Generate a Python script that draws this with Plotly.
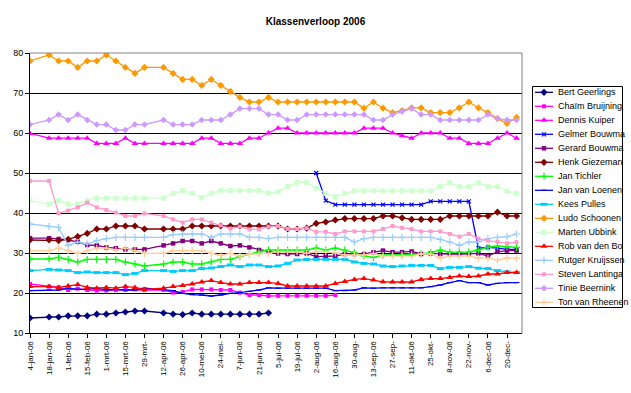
import plotly.graph_objects as go

FONT = "Liberation Sans, Arial, sans-serif"

# ---- categories (weekly measurements, 11-jan and 5-apr missing) ----
DATES = [
    "2006-01-04", "2006-01-18", "2006-01-25", "2006-02-01", "2006-02-08", "2006-02-15",
    "2006-02-22", "2006-03-01", "2006-03-08", "2006-03-15", "2006-03-22", "2006-03-29",
    "2006-04-12", "2006-04-19", "2006-04-26", "2006-05-03", "2006-05-10", "2006-05-17",
    "2006-05-24", "2006-05-31", "2006-06-07", "2006-06-14", "2006-06-21", "2006-06-28",
    "2006-07-05", "2006-07-12", "2006-07-19", "2006-07-26", "2006-08-02", "2006-08-09",
    "2006-08-16", "2006-08-23", "2006-08-30", "2006-09-06", "2006-09-13", "2006-09-20",
    "2006-09-27", "2006-10-04", "2006-10-11", "2006-10-18", "2006-10-25", "2006-11-01",
    "2006-11-08", "2006-11-15", "2006-11-22", "2006-11-29", "2006-12-06", "2006-12-13",
    "2006-12-20", "2006-12-27",
]

TICK_DATES = [
    "2006-01-04", "2006-01-18", "2006-02-01", "2006-02-15", "2006-03-01", "2006-03-15",
    "2006-03-29", "2006-04-12", "2006-04-26", "2006-05-10", "2006-05-24", "2006-06-07",
    "2006-06-21", "2006-07-05", "2006-07-19", "2006-08-02", "2006-08-16", "2006-08-30",
    "2006-09-13", "2006-09-27", "2006-10-11", "2006-10-25", "2006-11-08", "2006-11-22",
    "2006-12-06", "2006-12-20",
]
TICK_TEXT = [
    "4-jan-06", "18-jan-06", "1-feb-06", "15-feb-06", "1-mrt-06", "15-mrt-06",
    "29-mrt-", "12-apr-06", "26-apr-06", "10-mei-06", "24-mei-", "7-jun-06",
    "21-jun-06", "5-jul-06", "19-jul-06", "2-aug-06", "16-aug-06", "30-aug-",
    "13-sep-06", "27-sep-", "11-okt-06", "25-okt-", "8-nov-06", "22-nov-",
    "6-dec-06", "20-dec-",
]

# ---- series values ----
bert = [13.75,
        14.0, 14.0, 14.3, 14.3, 14.3, 14.7, 14.7, 15.0, 15.25, 15.5, 15.5,
        15.0, 14.7, 14.6, 15.0, 14.7, 14.7, 14.7, 14.7, 14.7, 14.7, 14.7, 15.0] + [None] * 26

chaim = [22.25,
         21.6, 21.4, 20.75, 21.1, 20.75, 20.6, 20.6, 20.75, 20.75, 20.9, 20.75,
         20.75, 20.1, 20.25, 20.9, 20.9, 20.9, 20.75, 20.75, 20.1, 19.5, 19.5, 19.25,
         19.3, 19.3, 19.3, 19.3, 19.3, 19.3, 19.5] + [None] * 19

dennis = [59.9,
          58.7, 58.7, 58.7, 58.7, 58.7, 57.4, 57.4, 57.4, 58.7, 57.4, 57.4,
          57.4, 57.4, 57.4, 57.4, 58.7, 58.7, 57.4, 57.4, 57.4, 58.7, 58.7, 60,
          61.2, 61.2, 60, 60, 60, 60, 60, 60, 60, 61.2, 61.2, 61.2, 60,
          59.3, 58.7, 60, 60, 60, 58.7, 58.7, 57.4, 57.4, 57.4, 58.7, 60, 58.7]

gelmer = [None] * 28 + [50, 43.1,
          42.1, 42.1, 42.1, 42.1, 42.1, 42.1, 42.1, 42.1, 42.1, 42.1,
          42.9, 42.9, 42.9, 42.9, 42.9, 31.2, 31.4, 31.2, 30.9, 30.9]

gerard = [33.7,
          33.7, 33.5, 33.25, 32.8, 32.0, 31.9, 31.4, 31.2, 30.9, 30.9, 30.9,
          31.9, 32.4, 33.0, 33.0, 32.4, 33.0, 32.4, 31.75, 31.9, 31.4, 30.75, 30.3,
          29.9, 29.75, 29.75, 29.9, 29.1, 29.25, 29.25, 29.75, 29.75, 29.75, 30.2, 30.6, 30.2,
          30.2, 30.4, 29.75, 29.9, 29.75, 29.75, 29.75, 29.75, 29.9, 29.25, 30.3, 30.6, 30.6]

henk = [33.25,
        33.25, 33.1, 33.4, 34.1, 34.9, 36.0, 36.0, 36.75, 36.75, 36.75, 36.0,
        36.0, 36.0, 36.0, 36.75, 36.75, 36.75, 36.75, 36.75, 36.75, 36.75, 36.75, 36.75,
        36.75, 36.0, 36.0, 36.2, 37.4, 37.75, 38.25, 38.6, 38.6, 38.6, 38.6, 39.25, 39.25,
        38.8, 38.4, 38.4, 38.4, 38.4, 39.25, 39.25, 39.25, 39.25, 39.25, 40.2, 39.25, 39.25]

tichler = [28.5,
           28.5, 28.9, 28.4, 27.75, 28.4, 28.4, 28.4, 28.4, 27.75, 27.25, 26.75,
           27.25, 27.75, 27.75, 27.25, 27.25, 27.75, 28.4, 28.4, 29.1, 29.75, 30.25, 30.75,
           30.75, 30.75, 30.75, 30.75, 31.25, 30.75, 31.25, 30.75, 30.1, 29.25, 28.9, 29.5, 29.6,
           29.6, 29.7, 29.75, 30.1, 30.75, 30.2, 30.25, 30.25, 30.75, 31.4, 31.75, 31.6, 31.4]

loenen = [20.6,
          20.75, 20.75, 21.2, 20.9, 20.9, 21.2, 20.75, 20.9, 20.75, 20.75, 21.2,
          20.9, 20.6, 19.9, 19.6, 19.5, 19.25, 19.5, 19.9, 20.1, 20.4, 20.75, 21.3,
          21.2, 21.2, 21.2, 21.2, 21.2, 21.2, 20.6, 20.6, 20.75, 21.3, 21.2, 21.3, 21.3,
          21.3, 21.3, 21.3, 21.6, 22.0, 22.6, 23.1, 22.6, 22.6, 22.0, 22.4, 22.6, 22.6]

kees = [25.6,
        25.9, 25.75, 25.6, 25.1, 25.25, 25.1, 25.1, 25.1, 24.6, 24.9, 25.6,
        25.6, 25.4, 25.6, 25.6, 26.1, 26.25, 26.6, 27.0, 26.6, 27.0, 27.0, 26.6,
        26.75, 27.4, 28.25, 28.4, 28.4, 28.4, 28.4, 28.4, 27.75, 27.4, 27.25, 26.75, 26.6,
        26.75, 26.9, 26.9, 26.9, 26.1, 26.4, 26.4, 26.6, 26.2, 26.1, 25.6, 25.3, 25.1]

ludo = [78,
        79.5, 78, 78, 76.4, 78, 78, 79.5, 78, 76.4, 74.9, 76.4,
        76.4, 74.9, 73.4, 73.4, 71.9, 73.4, 71.9, 70.4, 68.9, 67.75, 67.75, 68.9,
        67.75, 67.75, 67.75, 67.75, 67.75, 67.75, 67.75, 67.75, 67.75, 66.2, 67.75, 66.2, 65.1,
        65.6, 66.3, 66.3, 65.1, 65.1, 65.1, 66.3, 67.75, 66.3, 65.1, 63.6, 62.4, 63.9]

marten = [43.1,
          42.2, 43.1, 42.2, 42.2, 43.1, 43.7, 43.7, 43.7, 43.7, 43.7, 43.7,
          43.7, 44.9, 45.6, 44.9, 43.8, 44.9, 45.6, 45.6, 45.6, 45.6, 45.6, 45.0,
          45.3, 46.6, 47.6, 47.6, 46.2, 44.9, 44.1, 44.9, 45.5, 45.5, 45.5, 45.5, 45.5,
          45.5, 45.5, 45.5, 45.5, 46.6, 47.6, 46.6, 46.6, 47.6, 46.6, 46.6, 45.5, 44.9]

rob = [21.6,
       21.6, 21.4, 21.75, 22.1, 21.4, 21.2, 21.4, 21.2, 21.6, 21.4, 20.9,
       21.2, 21.6, 21.9, 22.25, 22.75, 23.1, 22.6, 22.25, 22.25, 22.6, 22.6, 22.6,
       22.4, 21.75, 21.75, 21.75, 21.75, 21.75, 22.4, 22.9, 23.4, 23.6, 23.25, 22.8, 22.75,
       22.75, 22.75, 23.4, 23.6, 23.6, 23.9, 24.25, 24.1, 24.25, 24.75, 24.75, 25.1, 25.1]

rutger = [37.25,
          36.6, 36.4, 31.9, 32.7, 32.25, 33.1, 33.6, 33.9, 33.9, 33.9, 33.9,
          33.9, 34.6, 34.75, 34.75, 34.75, 33.9, 34.75, 34.75, 34.75, 33.9, 33.9, 33.6,
          33.9, 33.9, 33.9, 33.9, 33.9, 33.9, 33.9, 33.9, 32.75, 33.6, 33.9, 33.9, 33.9,
          33.9, 33.9, 33.9, 33.9, 33.4, 32.75, 31.9, 32.75, 32.75, 33.6, 33.9, 34.1, 34.75]

steven = [48,
          48, 39.9, 40.6, 41.4, 42.6, 41.4, 40.75, 40.1, 39.25, 39.25, 39.9,
          39.25, 38.4, 37.6, 38.4, 38.4, 37.6, 36.9, 36.1, 36.6, 35.9, 35.9, 36.6,
          36.75, 36.0, 36.0, 36.2, 35.3, 35.3, 34.75, 35.4, 35.4, 35.4, 35.4, 36.0, 36.75,
          36.3, 36.0, 35.4, 35.4, 35.4, 34.75, 34.1, 34.75, 33.6, 33.1, 32.8, 32.4, 32.7]

tinie = [62.1,
         63.25, 64.6, 63.25, 64.6, 63.25, 62.1, 62.1, 60.75, 60.75, 62.1, 62.1,
         63.25, 62.1, 62.1, 62.1, 63.25, 63.25, 63.25, 64.6, 66.1, 66.1, 66.1, 64.6,
         64.6, 63.25, 63.25, 64.6, 64.6, 64.6, 64.6, 64.6, 64.6, 64.6, 63.25, 63.25, 64.6,
         65.4, 66.1, 64.6, 64.6, 63.25, 63.25, 63.25, 63.25, 63.25, 64.6, 63.6, 63.25, 63.25]

ton = [30.6,
       30.6, 31.2, 30.6, 29.9, 30.6, 31.2, 31.2, 30.75, 31.2, 30.6, 29.9,
       29.9, 30.6, 30.6, 30.6, 30.6, 29.9, 29.4, 29.9, 29.25, 29.75, 29.75, 29.9,
       30.3, 30.3, 30.3, 29.9, 30.3, 30.3, 30.0, 29.5, 29.5, 29.5, 29.9, 29.3, 29.3,
       29.3, 29.3, 29.75, 29.75, 28.7, 29.25, 29.25, 29.25, 28.7, 28.7, 28.25, 28.7, 28.7]

NAMES = ["Bert Geerlings", "Chaïm Bruijning", "Dennis Kuiper", "Gelmer Bouwma",
         "Gerard Bouwma", "Henk Giezeman", "Jan Tichler", "Jan van Loenen",
         "Kees Pulles", "Ludo Schoonen", "Marten Ubbink", "Rob van den Bo",
         "Rutger Kruijssen", "Steven Lantinga", "Tinie Beernink", "Ton van Rheenen"]
SERIES = [bert, chaim, dennis, gelmer, gerard, henk, tichler, loenen,
          kees, ludo, marten, rob, rutger, steven, tinie, ton]

# ---- styles ----
COLORS = ["#000080", "#FF00FF", "#FF00FF", "#0000FF", "#800080", "#800000", "#00FF00",
          "#0000FF", "#00CCFF", "#FF9900", "#CCFFCC", "#FF0000", "#99CCFF", "#FF99CC",
          "#CC99FF", "#FFCC99"]
SYMBOLS = ["diamond", "square", "triangle-up", "x-thin", "square", "diamond", "cross-thin",
           "line-ew", "line-ew", "diamond", "square", "triangle-up", "cross-thin", "square",
           "diamond", "cross-thin"]
SIZES = [5.5, 4, 6, 4, 4.5, 5.5, 5, 4, 5, 5.5, 5, 6, 5, 4, 5, 5]
OPEN = {"x-thin", "cross-thin", "line-ew"}


def marker_style(i):
    sym = SYMBOLS[i]
    if sym in OPEN:
        lw = 3 if (sym == "line-ew" and NAMES[i] == "Kees Pulles") else 1.2
        return dict(symbol=sym, size=SIZES[i], color=COLORS[i],
                    line=dict(color=COLORS[i], width=lw))
    return dict(symbol=sym, size=SIZES[i], color=COLORS[i], line=dict(width=0))


fig = go.Figure()
for i, (name, vals) in enumerate(zip(NAMES, SERIES)):
    fig.add_trace(go.Scatter(
        x=DATES, y=vals, name=name, mode="lines+markers",
        line=dict(color=COLORS[i], width=1.3),
        marker=marker_style(i), xaxis="x", yaxis="y",
    ))

# ---- hand-made legend (layout geometry in pixels) ----
PLOT_L, PLOT_R, PLOT_T, PLOT_B = 30, 522, 53, 333
FIG_W, FIG_H, MARGIN_R = 631, 393, 8
AREA_W = FIG_W - PLOT_L - MARGIN_R
AREA_H = PLOT_B - PLOT_T
LEG_L, LEG_R, LEG_T, LEG_B = 532, 623, 86, 308
LEG_ROW0, LEG_STEP = 92.3, 14
SAMPLE_X = [535, 544, 553]
TEXT_X = 556

annotations = []
for i, name in enumerate(NAMES):
    yc = LEG_ROW0 + LEG_STEP * i
    m = marker_style(i)
    m["opacity"] = [0, 1, 0]
    fig.add_trace(go.Scatter(
        x=SAMPLE_X, y=[yc] * 3, mode="lines+markers", showlegend=False,
        line=dict(color=COLORS[i], width=1.3), marker=m,
        xaxis="x2", yaxis="y2", hoverinfo="skip",
    ))
    annotations.append(dict(
        x=TEXT_X, y=yc, xref="x2", yref="y2", text=name, showarrow=False,
        xanchor="left", yanchor="middle",
        font=dict(family=FONT, size=9, color="black"),
    ))

shapes = [
    dict(type="rect", xref="x2", yref="y2", x0=LEG_L + 0.5, x1=LEG_R - 0.5,
         y0=LEG_T + 0.5, y1=LEG_B - 0.5, line=dict(color="black", width=1),
         fillcolor="white", layer="below"),
    dict(type="line", xref="x domain", yref="y domain", x0=0, x1=1, y0=1, y1=1,
         line=dict(color="#808080", width=1), layer="above"),
    dict(type="line", xref="x domain", yref="y domain", x0=1, x1=1, y0=0, y1=1,
         line=dict(color="#808080", width=1), layer="above"),
]

fig.update_layout(
    width=FIG_W, height=FIG_H,
    margin=dict(l=PLOT_L, r=MARGIN_R, t=PLOT_T, b=FIG_H - PLOT_B, pad=0, autoexpand=False),
    paper_bgcolor="white", plot_bgcolor="white",
    showlegend=False,
    font=dict(family=FONT, color="black"),
    title=dict(text="<b>Klassenverloop 2006</b>", x=0.5, xref="container", xanchor="center",
               y=1 - 21 / FIG_H, yref="container", yanchor="middle",
               font=dict(family=FONT, size=10, color="black")),
    xaxis=dict(
        domain=[0, (PLOT_R - PLOT_L) / AREA_W], type="date",
        range=["2006-01-04", "2006-12-31"],
        tickmode="array", tickvals=TICK_DATES, ticktext=TICK_TEXT, tickangle=-90,
        tickfont=dict(family=FONT, size=8, color="black"),
        ticks="outside", ticklen=4, tickcolor="black", tickwidth=1,
        showline=True, linecolor="black", linewidth=1,
        showgrid=False, zeroline=False, anchor="y",
    ),
    yaxis=dict(
        range=[10, 80], tick0=10, dtick=10,
        tickfont=dict(family=FONT, size=9, color="black"),
        ticks="outside", ticklen=4, tickcolor="black", tickwidth=1,
        showline=True, linecolor="black", linewidth=1,
        showgrid=True, gridcolor="black", gridwidth=1, zeroline=False, anchor="x",
    ),
    xaxis2=dict(domain=[(LEG_L - PLOT_L) / AREA_W, (LEG_R - PLOT_L) / AREA_W],
                range=[LEG_L, LEG_R], visible=False, anchor="y2", fixedrange=True),
    yaxis2=dict(domain=[(PLOT_B - LEG_B) / AREA_H, (PLOT_B - LEG_T) / AREA_H],
                range=[LEG_B, LEG_T], visible=False, anchor="x2", fixedrange=True),
    shapes=shapes,
    annotations=annotations,
)

# remove the page's default 8px body margin so the figure sits at the window's corner
fig.write_html("out.html", config={"displayModeBar": False},
               post_script="document.body.style.margin='0';")
